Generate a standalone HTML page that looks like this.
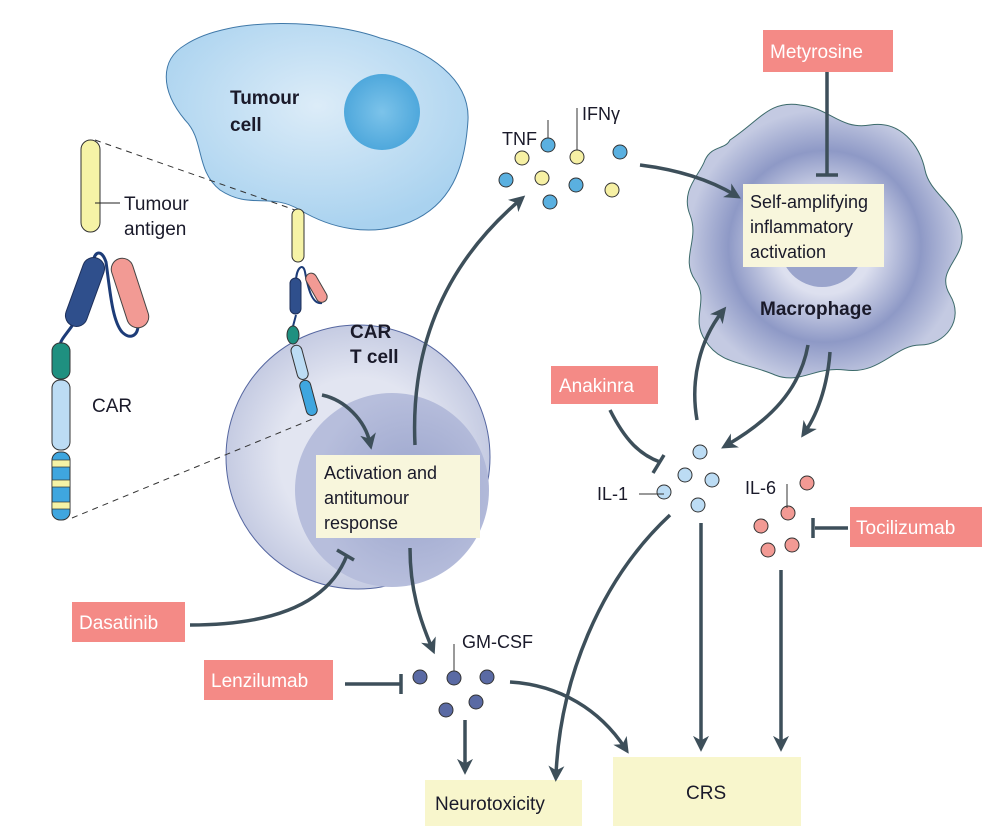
<!DOCTYPE html>
<html><head><meta charset="utf-8"><style>
body{margin:0;background:#fff}
svg{display:block}
text{font-family:"Liberation Sans",sans-serif;fill:#1a1a2a}
</style></head><body>
<svg width="1003" height="840" viewBox="0 0 1003 840">
<defs>
<radialGradient id="tum" cx="0.5" cy="0.4" r="0.6"><stop offset="0" stop-color="#dcecf8"/><stop offset="1" stop-color="#a9d2ef"/></radialGradient>
<radialGradient id="nuc" cx="0.5" cy="0.5" r="0.5"><stop offset="0" stop-color="#7cc3ea"/><stop offset="1" stop-color="#4fa8dc"/></radialGradient>
<radialGradient id="tc" cx="0.5" cy="0.5" r="0.5"><stop offset="0.6" stop-color="#e2e5f1"/><stop offset="1" stop-color="#c5cbe2"/></radialGradient>
<radialGradient id="tn" cx="0.6" cy="0.5" r="0.5"><stop offset="0" stop-color="#9aa4cc"/><stop offset="1" stop-color="#b7bedc"/></radialGradient>
<radialGradient id="mac" cx="0.5" cy="0.52" r="0.5"><stop offset="0.35" stop-color="#dde0ef"/><stop offset="0.7" stop-color="#8e99c6"/><stop offset="1" stop-color="#c4cae2"/></radialGradient>
<marker id="ah" markerWidth="16" markerHeight="16" refX="8" refY="7" orient="auto" markerUnits="userSpaceOnUse" viewBox="0 0 14 14"><path d="M0,0 L14,7 L0,14 L4,7z" fill="#3d4f5a"/></marker>
</defs>
<!-- tumour cell -->
<path d="M185,45 C230,15 330,20 380,38 C430,50 470,80 468,120 C465,170 450,205 410,222 C370,238 330,228 300,210 C270,192 250,210 220,190 C195,170 205,140 185,120 C160,90 160,60 185,45Z" fill="url(#tum)" stroke="#3f78a8" stroke-width="1"/>
<circle cx="382" cy="112" r="38" fill="url(#nuc)"/>
<text x="230" y="104" font-size="19" font-weight="bold">Tumour</text>
<text x="230" y="131" font-size="19" font-weight="bold">cell</text>
<!-- dashed -->
<line x1="95" y1="140" x2="295" y2="210" stroke="#333" stroke-dasharray="6,5"/>
<!-- CAR T cell -->
<circle cx="358" cy="457" r="132" fill="url(#tc)" stroke="#5566a0" stroke-width="1"/>
<circle cx="392" cy="490" r="97" fill="url(#tn)"/>
<line x1="72" y1="518" x2="315" y2="418" stroke="#333" stroke-dasharray="6,5"/>
<text x="350" y="338" font-size="19" font-weight="bold">CAR</text>
<text x="350" y="363" font-size="19" font-weight="bold">T cell</text>
<rect x="316" y="455" width="164" height="83" fill="#f8f6dc"/>
<text x="324" y="479" font-size="18">Activation and</text>
<text x="324" y="504" font-size="18">antitumour</text>
<text x="324" y="529" font-size="18">response</text>
<!-- tumour antigen left -->
<rect x="81" y="140" width="19" height="92" rx="9.5" fill="#f6f3a6" stroke="#333"/>
<line x1="95" y1="203" x2="120" y2="203" stroke="#222"/>
<text x="124" y="210" font-size="19">Tumour</text>
<text x="124" y="235" font-size="19">antigen</text>
<!-- left CAR -->
<path d="M93,262 C95,250 102,250 106,262 C110,290 112,320 122,332 C130,340 138,336 138,325" fill="none" stroke="#1d3c78" stroke-width="3"/>
<path d="M74,323 C66,335 60,340 60,346" fill="none" stroke="#1d3c78" stroke-width="3"/>
<rect x="74" y="256" width="22" height="72" rx="11" fill="#2f4f8c" stroke="#1d2f5a" transform="rotate(20 85 292)"/>
<rect x="119" y="257" width="22" height="72" rx="11" fill="#f29a94" stroke="#444" transform="rotate(-18 130 293)"/>
<rect x="52" y="343" width="18" height="36" rx="8" fill="#1f9080" stroke="#333"/>
<rect x="52" y="380" width="18" height="70" rx="8" fill="#bcdcf4" stroke="#333"/>
<rect x="52" y="452" width="18" height="68" rx="8" fill="#3fa6df" stroke="#333"/>
<rect x="52" y="460" width="18" height="7" fill="#f6f3a6" stroke="#333" stroke-width="0.7"/>
<rect x="52" y="480" width="18" height="7" fill="#f6f3a6" stroke="#333" stroke-width="0.7"/>
<rect x="52" y="502" width="18" height="7" fill="#f6f3a6" stroke="#333" stroke-width="0.7"/>
<text x="92" y="412" font-size="19">CAR</text>
<!-- small CAR -->
<rect x="292" y="209" width="12" height="53" rx="6" fill="#f6f3a6" stroke="#333"/>
<path d="M296,282 C296,268 303,262 305,272 C308,288 312,305 322,303" fill="none" stroke="#1d3c78" stroke-width="2"/>
<rect x="290" y="278" width="11" height="36" rx="5.5" fill="#2f4f8c" stroke="#1d2f5a"/>
<rect x="311" y="272" width="11" height="32" rx="5.5" fill="#f29a94" stroke="#444" transform="rotate(-30 316 288)"/>
<path d="M296,315 L292,330" stroke="#1d3c78" stroke-width="2"/>
<ellipse cx="293" cy="335" rx="6" ry="9" fill="#1f9080" stroke="#333"/>
<rect x="294" y="345" width="11" height="35" rx="5.5" fill="#bcdcf4" stroke="#333" transform="rotate(-15 299 362)"/>
<rect x="303" y="380" width="11" height="36" rx="5.5" fill="#3fa6df" stroke="#333" transform="rotate(-15 308 398)"/>
<!-- macrophage -->
<path d="M730,140 C760,120 770,100 800,105 C830,108 840,130 870,125 C900,120 920,145 925,170 C930,195 960,205 962,235 C964,260 935,270 950,295 C965,320 945,345 920,345 C895,345 880,375 845,370 C815,366 800,385 775,375 C745,362 720,365 705,340 C690,318 710,300 695,280 C680,258 700,240 690,215 C680,190 700,175 705,160 C712,145 725,150 730,140Z" fill="url(#mac)" stroke="#3c6a6a" stroke-width="1"/>
<circle cx="822" cy="245" r="42" fill="#9aa4cc"/>
<rect x="743" y="184" width="141" height="83" fill="#f8f6dc"/>
<text x="750" y="208" font-size="18">Self-amplifying</text>
<text x="750" y="233" font-size="18">inflammatory</text>
<text x="750" y="258" font-size="18">activation</text>
<text x="760" y="315" font-size="19" font-weight="bold">Macrophage</text>
<!-- drug boxes -->
<g font-size="19">
<rect x="763" y="30" width="130" height="42" fill="#f48a86"/><text x="770" y="58" style="fill:#fff">Metyrosine</text>
<rect x="551" y="366" width="107" height="38" fill="#f48a86"/><text x="559" y="392" style="fill:#fff">Anakinra</text>
<rect x="850" y="507" width="132" height="40" fill="#f48a86"/><text x="856" y="534" style="fill:#fff">Tocilizumab</text>
<rect x="72" y="602" width="113" height="40" fill="#f48a86"/><text x="79" y="629" style="fill:#fff">Dasatinib</text>
<rect x="204" y="660" width="129" height="40" fill="#f48a86"/><text x="211" y="687" style="fill:#fff">Lenzilumab</text>
</g>
<!-- outcome boxes -->
<rect x="425" y="780" width="157" height="46" fill="#f8f6cc"/>
<text x="435" y="810" font-size="19">Neurotoxicity</text>
<rect x="613" y="757" width="188" height="69" fill="#f8f6cc"/>
<text x="686" y="799" font-size="19">CRS</text>
<!-- arrows -->
<g fill="none" stroke="#3d4f5a" stroke-width="3.5">
<path d="M827,72 L827,174"/><path d="M816,175 L838,175"/>
<path d="M640,165 C680,170 710,180 735,195" marker-end="url(#ah)"/>
<path d="M415,445 C410,340 450,260 520,200" marker-end="url(#ah)"/>
<path d="M322,395 C345,400 365,420 370,443" marker-end="url(#ah)"/>
<path d="M410,548 C410,590 420,620 432,648" marker-end="url(#ah)"/>
<path d="M190,625 C280,625 330,600 347,555"/><path d="M337,550 L354,560"/>
<path d="M345,684 L400,684"/><path d="M401,674 L401,694"/>
<path d="M465,720 L465,768" marker-end="url(#ah)"/>
<path d="M510,682 C560,685 600,710 625,748" marker-end="url(#ah)"/>
<path d="M808,345 C800,390 770,420 727,445" marker-end="url(#ah)"/>
<path d="M830,352 C828,380 820,410 805,432" marker-end="url(#ah)"/>
<path d="M697,420 C690,380 700,340 722,312" marker-end="url(#ah)"/>
<path d="M610,410 C625,440 640,455 660,462"/><path d="M653,473 L664,455"/>
<path d="M670,515 C600,580 560,680 556,775" marker-end="url(#ah)"/>
<path d="M701,523 L701,745" marker-end="url(#ah)"/>
<path d="M781,570 L781,745" marker-end="url(#ah)"/>
<path d="M848,528 L815,528"/><path d="M813,518 L813,538"/>
</g>
<!-- cytokines -->
<g stroke="#333" stroke-width="1">
<line x1="548" y1="120" x2="548" y2="140"/>
<line x1="577" y1="108" x2="577" y2="150"/>
<circle cx="506" cy="180" r="7" fill="#5ab0e0"/><circle cx="548" cy="145" r="7" fill="#5ab0e0"/><circle cx="576" cy="185" r="7" fill="#5ab0e0"/><circle cx="620" cy="152" r="7" fill="#5ab0e0"/><circle cx="550" cy="202" r="7" fill="#5ab0e0"/>
<circle cx="522" cy="158" r="7" fill="#f6f0a4"/><circle cx="542" cy="178" r="7" fill="#f6f0a4"/><circle cx="577" cy="157" r="7" fill="#f6f0a4"/><circle cx="612" cy="190" r="7" fill="#f6f0a4"/>
<circle cx="700" cy="452" r="7" fill="#bcdcf4"/><circle cx="685" cy="475" r="7" fill="#bcdcf4"/><circle cx="712" cy="480" r="7" fill="#bcdcf4"/><circle cx="698" cy="505" r="7" fill="#bcdcf4"/><circle cx="664" cy="492" r="7" fill="#bcdcf4"/>
<line x1="639" y1="494" x2="664" y2="494"/>
<circle cx="807" cy="483" r="7" fill="#f29a94"/><circle cx="788" cy="513" r="7" fill="#f29a94"/><circle cx="761" cy="526" r="7" fill="#f29a94"/><circle cx="792" cy="545" r="7" fill="#f29a94"/><circle cx="768" cy="550" r="7" fill="#f29a94"/>
<line x1="787" y1="484" x2="787" y2="508"/>
<line x1="454" y1="644" x2="454" y2="676"/>
<circle cx="420" cy="677" r="7" fill="#5a6aa4"/><circle cx="454" cy="678" r="7" fill="#5a6aa4"/><circle cx="487" cy="677" r="7" fill="#5a6aa4"/><circle cx="476" cy="702" r="7" fill="#5a6aa4"/><circle cx="446" cy="710" r="7" fill="#5a6aa4"/>
</g>
<text x="502" y="145" font-size="18">TNF</text>
<text x="582" y="120" font-size="18">IFNγ</text>
<text x="597" y="500" font-size="18">IL-1</text>
<text x="745" y="494" font-size="18">IL-6</text>
<text x="462" y="648" font-size="18">GM-CSF</text>
</svg>
</body></html>
